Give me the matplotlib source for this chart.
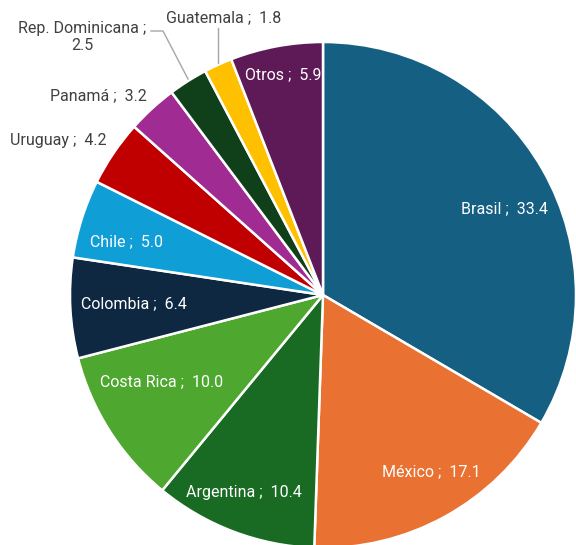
import matplotlib
matplotlib.use("Agg")
import matplotlib.pyplot as plt

categories = ["Brasil", "México", "Argentina", "Costa Rica", "Colombia", "Chile",
              "Uruguay", "Panamá", "Rep. Dominicana", "Guatemala", "Otros"]
values = [33.4, 17.1, 10.4, 10.0, 6.4, 5.0, 4.2, 3.2, 2.5, 1.8, 5.9]
colors = ["#156082", "#E97132", "#196B24", "#4EA72E", "#0E2841", "#0F9ED5",
          "#C00000", "#A02B93", "#10401A", "#FFC000", "#5E1A57"]

W, H = 576, 545
fig = plt.figure(figsize=(W / 100, H / 100), dpi=100)
ax = fig.add_axes([0, 0, 1, 1])

cx, cy, R = 323, H - 295, 253
ax.pie(values, colors=colors, startangle=90, counterclock=False,
       center=(cx, cy), radius=R, frame=True,
       wedgeprops=dict(edgecolor="white", linewidth=1.8))
ax.set_xlim(0, W)
ax.set_ylim(0, H)
ax.axis("off")

font = dict(family=["Roboto", "DejaVu Sans"], fontsize=11.5)
# label positions in pixel coordinates (from top-left)
label_pos = {
    "Brasil": (504, 209, "white"),
    "México": (431, 472, "white"),
    "Argentina": (244, 493, "white"),
    "Costa Rica": (162, 382, "white"),
    "Colombia": (134, 304, "white"),
    "Chile": (126, 242, "white"),
    "Uruguay": (58, 140, "#404040"),
    "Panamá": (98, 96, "#404040"),
    "Rep. Dominicana": (82, 37, "#404040"),
    "Guatemala": (224, 18, "#404040"),
    "Otros": (283, 75, "white"),
}
for cat, val in zip(categories, values):
    x, y, c = label_pos[cat]
    if cat == "Rep. Dominicana":
        txt = f"{cat} ;\n{val:.1f}"
    else:
        txt = f"{cat} ;  {val:.1f}"
    ax.text(x, H - y, txt, ha="center", va="center", color=c,
            linespacing=1.1, **font)

# leader lines
ax.plot([151, 163, 188], [H - 31, H - 31, H - 79], color="#A6A6A6", lw=1)
ax.plot([218, 218], [H - 28, H - 63], color="#A6A6A6", lw=1)

fig.savefig("out.png", dpi=100, facecolor="white")
